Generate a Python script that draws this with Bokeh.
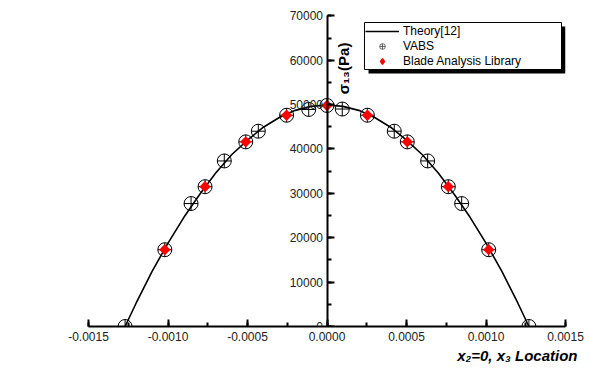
from bokeh.plotting import figure
from bokeh.models import (SingleIntervalTicker, PrintfTickFormatter, Legend, LegendItem,
                          BoxAnnotation, Label, Range1d, Title)
from bokeh.embed import file_html
from bokeh.resources import INLINE
import math

# ---- data ----
theory_x = [-0.00127, -0.0012, -0.0011, -0.0010, -0.0009, -0.0008, -0.0007, -0.0006, -0.0005,
            -0.0004, -0.0003, -0.0002, -0.0001, 0.0, 0.0001, 0.0002, 0.0003, 0.0004, 0.0005,
            0.0006, 0.0007, 0.0008, 0.0009, 0.0010, 0.0011, 0.0012, 0.00127]
theory_y = [0, 5300, 12400, 18800, 24600, 29800, 34600, 38700, 42000,
            44900, 47100, 48700, 49600, 49900, 49600, 48700, 47100, 44900, 42000,
            38700, 34600, 29800, 24600, 18800, 12400, 5300, 0]

vabs_x = [-0.00127, -0.00102, -0.000855, -0.000767, -0.000646, -0.000511, -0.000432, -0.000254,
          -0.000115, 0.0, 0.000096, 0.000254, 0.000423, 0.000505, 0.000633, 0.000763, 0.000847,
          0.001017, 0.00127]
vabs_y = [0, 17300, 27700, 31500, 37300, 41600, 44000, 47600,
          48900, 49800, 49000, 47600, 44000, 41600, 37300, 31500, 27700,
          17300, 0]

bal_x = [-0.00102, -0.000767, -0.000511, -0.000254, 0.0, 0.000254, 0.000505, 0.000763, 0.001017]
bal_y = [17300, 31500, 41600, 47600, 49800, 47600, 41600, 31500, 17300]

series_names = ["Theory[12]", "VABS", "Blade Analysis Library"]
x_title = "x\u2082=0, x\u2083 Location"
y_title = "\u03c3\u2081\u2083(Pa)"

FONT = "Liberation Sans"
NAN = float("nan")

p = figure(frame_width=477, frame_height=324, min_border_left=88, min_border_right=29,
           min_border_top=2, min_border_bottom=46,
           x_range=Range1d(-0.0015, 0.0015), y_range=Range1d(0, 73000),
           output_backend="svg", toolbar_location=None, background_fill_color="white",
           border_fill_color="white")
p.outline_line_color = None
p.grid.visible = False

# axes
p.xaxis.ticker = SingleIntervalTicker(interval=0.0005, num_minor_ticks=2)
p.xaxis.formatter = PrintfTickFormatter(format="%.4f")
p.yaxis.ticker = SingleIntervalTicker(interval=10000, num_minor_ticks=2)
p.yaxis.formatter = PrintfTickFormatter(format="%d")
p.yaxis.fixed_location = 0
p.yaxis.bounds = (0, 70000)
for ax in (p.xaxis, p.yaxis):
    ax.axis_line_width = 2
    ax.axis_line_color = "black"
    ax.major_tick_in = 7
    ax.major_tick_out = 0
    ax.minor_tick_in = 4
    ax.minor_tick_out = 0
    ax.major_tick_line_width = 2
    ax.minor_tick_line_width = 2
    ax.major_tick_line_color = "black"
    ax.minor_tick_line_color = "black"
    ax.major_label_text_font = FONT
    ax.major_label_text_font_size = "12px"
    ax.major_label_text_color = "#222222"
p.xaxis.major_label_standoff = 5
p.yaxis.major_label_standoff = 4

# glyphs
line_r = p.line(theory_x, theory_y, line_color="black", line_width=1.6)
vabs_r = p.scatter(vabs_x, vabs_y, marker="circle_cross", size=14, line_color="black",
                   fill_color=None, line_width=1)
bal_r = p.rect(bal_x, bal_y, width=8, height=8, width_units="screen", height_units="screen",
               angle=45, angle_units="deg", fill_color="red", line_color=None)

# legend-only renderers (smaller glyphs, nothing drawn in the plot)
vabs_leg = p.scatter(x=[NAN], y=[NAN], marker="circle_cross", size=9, line_color="#333333",
                     fill_color=None, line_width=0.7)
bal_leg = p.scatter(x=[NAN], y=[NAN], marker="diamond", size=11, fill_color="red",
                    line_color="red", line_width=1.5)

# legend shadow and frame box
shadow = BoxAnnotation(left=0.000261, right=0.0015, top=67593, bottom=57003,
                       fill_color="black", fill_alpha=1.0, line_color=None)
p.add_layout(shadow)
lbox = BoxAnnotation(left=0.0002358, right=0.0014748, top=68494, bottom=57905,
                     fill_color="white", fill_alpha=1.0, line_color="black", line_width=1,
                     line_alpha=1.0)
p.add_layout(lbox)

legend = Legend(items=[LegendItem(label=series_names[0], renderers=[line_r]),
                       LegendItem(label=series_names[1], renderers=[vabs_leg]),
                       LegendItem(label=series_names[2], renderers=[bal_leg])],
                location=(277, 258), orientation="vertical")
legend.border_line_color = None
legend.background_fill_alpha = 0.0
legend.label_text_font = FONT
legend.label_text_font_size = "12px"
legend.label_text_color = "black"
legend.glyph_width = 34
legend.glyph_height = 14
legend.label_height = 14
legend.label_standoff = 4
legend.spacing = 1
legend.padding = 1
legend.margin = 0
legend.label_text_line_height = 1.0
p.add_layout(legend, "center")

# axis titles
xt = Title(text=x_title, align="right", text_font=FONT, text_font_size="15px",
           text_font_style="bold italic", text_color="black", offset=-12, standoff=2)
p.add_layout(xt, "below")
ylab = Label(x=0.000104, y=58130, text=y_title, angle=math.pi / 2, text_align="center",
             text_baseline="middle", text_font=FONT, text_font_size="15px",
             text_font_style="bold", text_color="black")
p.add_layout(ylab)

open("out.html", "w").write(file_html(p, INLINE))
